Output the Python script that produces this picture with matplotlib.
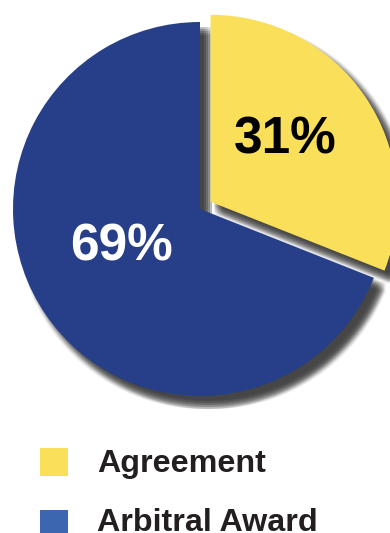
import matplotlib
matplotlib.use("Agg")
import matplotlib.pyplot as plt
from matplotlib.patches import Rectangle

categories = ["Agreement", "Arbitral Award"]
values = [31, 69]
pie_colors = ["#F9DF5A", "#263F88"]
legend_colors = ["#F9DF5A", "#3D66B0"]
label_colors = ["#000000", "#FFFFFF"]
explode = [12.8, 0.0]   # offset in pixels (data units)

W, H = 390, 533
fig = plt.figure(figsize=(W / 100, H / 100), dpi=100)
ax = fig.add_axes([0, 0, 1, 1])

R = 187
C = (200, H - 209)

# soft shadow: stacked translucent gray pies
steps = [-4, -2, 0, 2, 4]
for dx in steps:
    for dy in steps:
        ax.pie(values, radius=R, center=(C[0] + 8 + dx, C[1] - 9 + dy),
               startangle=90, counterclock=False, explode=explode,
               colors=["#2e2e2e"] * 2, frame=True,
               wedgeprops=dict(alpha=0.075, linewidth=0))

wedges, texts, autotexts = ax.pie(
    values, radius=R, center=C, startangle=90, counterclock=False,
    explode=explode, colors=pie_colors, frame=True,
    autopct=lambda p: f"{p:.0f}%", pctdistance=0.5,
    wedgeprops=dict(linewidth=0),
    textprops=dict(fontsize=37, fontweight="bold", family="Liberation Sans"))
for t, c in zip(autotexts, label_colors):
    t.set_color(c)
# nudge labels to match original placement
autotexts[0].set_position((285, H - 140))
autotexts[1].set_position((121, H - 247))

ax.set_xlim(0, W)
ax.set_ylim(0, H)
ax.set_aspect("equal")
ax.axis("off")

# legend
rows_y = [448, 510]
base_y = [472, 531]
for cat, col, ry, by in zip(categories, legend_colors, rows_y, base_y):
    ax.add_patch(Rectangle((40, H - ry - 28), 28, 28, facecolor=col,
                           edgecolor="none", zorder=5))
    ax.text(97, H - by, cat, fontsize=23.2, fontweight="bold",
            family="Liberation Sans", color="#231F20", va="baseline",
            ha="left", zorder=5)

fig.savefig("out.png", dpi=100)
